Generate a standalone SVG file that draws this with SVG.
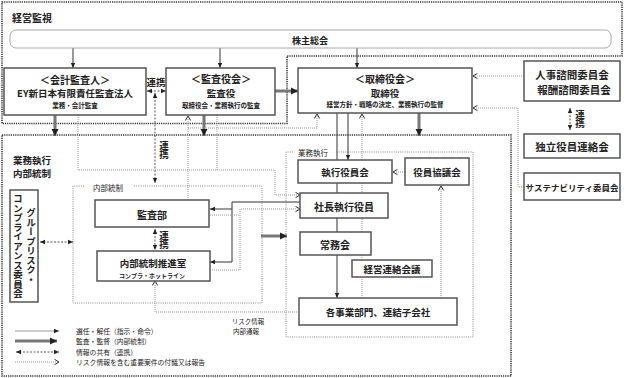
<svg xmlns="http://www.w3.org/2000/svg" width="624" height="378" viewBox="0 0 624 378">
<style>
text{font-family:"Noto Sans CJK JP","Noto Sans",sans-serif;fill:#222;dominant-baseline:central;text-anchor:middle}
.b{font-weight:bold}
.box{fill:#fff;stroke:#555;stroke-width:1.5}
.frameO{fill:none;stroke:#333;stroke-width:1.6;stroke-dasharray:1.2 1}
.frameI{fill:none;stroke:#888;stroke-width:1;stroke-dasharray:1 1.2}
.sol{fill:none;stroke:#333;stroke-width:1}
.thick{fill:none;stroke:#777;stroke-width:3}
.dash{fill:none;stroke:#444;stroke-width:0.9;stroke-dasharray:2 1.5}
.dot{fill:none;stroke:#999;stroke-width:1;stroke-dasharray:1 1}
.vt{writing-mode:vertical-rl}
</style>
<defs>
<marker id="aS" markerUnits="userSpaceOnUse" markerWidth="6" markerHeight="6" refX="5" refY="3" orient="auto"><path d="M0,0.8 L5,3 L0,5.2 Z" fill="#222"/></marker>
<marker id="aSs" markerUnits="userSpaceOnUse" markerWidth="6" markerHeight="6" refX="1" refY="3" orient="auto"><path d="M6,0.8 L1,3 L6,5.2 Z" fill="#222"/></marker>
<marker id="aT" markerUnits="userSpaceOnUse" markerWidth="8" markerHeight="8" refX="7" refY="4" orient="auto"><path d="M0,0.5 L7,4 L0,7.5 Z" fill="#222"/></marker>
<marker id="aO" markerUnits="userSpaceOnUse" markerWidth="7" markerHeight="7" refX="5.5" refY="3.5" orient="auto"><path d="M1,0.8 L5.5,3.5 L1,6.2" fill="none" stroke="#333" stroke-width="1"/></marker>
</defs>

<g id="frames">
<path class="frameO" d="M2,2 H622 V56 H287 V123.5 H2 Z"/>
<rect class="frameO" x="2" y="135" width="509" height="241"/>
<path class="frameI" d="M84,186 H73 V303 H262 V186 H133"/>
<path class="frameI" d="M293,152 H286 V337 H473 V152 H335"/>
<text x="32" y="17" class="b" font-size="10">経営監視</text>
<text x="32" y="160" class="b" font-size="9.5">業務執行</text>
<text x="32" y="173" class="b" font-size="9.5">内部統制</text>
<text x="108" y="187" font-size="7.5">内部統制</text>
<text x="313" y="152" font-size="7.5">業務執行</text>
</g>

<g id="connectors">
<line class="sol" x1="73" y1="48" x2="73" y2="68" marker-end="url(#aS)"/>
<line class="sol" x1="220" y1="48" x2="220" y2="68" marker-end="url(#aS)"/>
<line class="sol" x1="357" y1="48" x2="357" y2="68" marker-end="url(#aS)"/>
<line class="dash" x1="147" y1="91" x2="166" y2="91" marker-start="url(#aSs)" marker-end="url(#aS)"/>
<line class="dash" x1="155" y1="93" x2="155" y2="183" marker-start="url(#aSs)" marker-end="url(#aS)"/>
<line class="thick" x1="275" y1="91" x2="298" y2="91" marker-end="url(#aT)"/>
<line class="thick" x1="55" y1="115" x2="55" y2="136" marker-end="url(#aT)"/>
<line class="thick" x1="204" y1="115" x2="204" y2="136" marker-end="url(#aT)"/>
<line class="thick" x1="419" y1="113" x2="419" y2="136" marker-end="url(#aT)"/>
<line class="thick" x1="261" y1="236" x2="287" y2="236" marker-end="url(#aT)"/>
<path class="dot" d="M188,200 V116" marker-end="url(#aO)"/>
<path class="dot" d="M188,128 H317 V114" marker-end="url(#aO)"/>
<path class="dot" d="M78,115 V170 H275 V195 H300" marker-end="url(#aO)"/>
<path class="dot" d="M217,115 V170"/>
<path class="sol" d="M300,202 H232 V262 H210" marker-end="url(#aS)"/>
<path class="sol" d="M232,209 H210" marker-end="url(#aS)"/>
<path class="dot" d="M210,215 H240"/>
<path class="dot" d="M210,270 H240 V209 H300" marker-end="url(#aO)"/>
<line class="dash" x1="40" y1="242" x2="73" y2="242" marker-start="url(#aSs)" marker-end="url(#aS)"/>
<line class="dash" x1="155" y1="229" x2="155" y2="250" marker-start="url(#aSs)" marker-end="url(#aS)"/>
<line class="dot" x1="362" y1="298" x2="362" y2="114" marker-end="url(#aO)"/>
<line class="sol" x1="337" y1="113" x2="337" y2="298" marker-end="url(#aS)"/>
<line class="sol" x1="348" y1="113" x2="348" y2="160" marker-end="url(#aS)"/>
<line class="dot" x1="405" y1="172" x2="393" y2="172" marker-end="url(#aO)"/>
<line class="dot" x1="441" y1="298" x2="441" y2="186" marker-end="url(#aO)"/>
<path class="dot" d="M299,312 H155 V281" marker-end="url(#aO)"/>
<line class="dot" x1="524" y1="76" x2="473" y2="76" marker-end="url(#aO)"/>
<path class="dot" d="M524,187 H518 V108 H473" marker-end="url(#aO)"/>
<line class="dash" x1="570" y1="108" x2="570" y2="130" marker-start="url(#aSs)" marker-end="url(#aS)"/>
<text x="156" y="82" class="b" font-size="9.5">連携</text>
<text x="164" y="150" class="b vt" font-size="9.5">連携</text>
<text x="164" y="240" class="b vt" font-size="9.5">連携</text>
<text x="580" y="119" class="b vt" font-size="9.5">連携</text>
<text x="248" y="321" font-size="6.5">リスク情報</text>
<text x="246" y="331" font-size="6.5">内部通報</text>
</g>

<g id="n-kabunushi">
<rect x="10" y="30" width="601" height="18" rx="6" fill="#fff" stroke="#aaa" stroke-width="1"/>
<text x="310" y="40" class="b" font-size="9">株主総会</text>
</g>
<g id="n-kaikei">
<rect class="box" x="4" y="68" width="142" height="47"/>
<text x="75" y="79.5" class="b" font-size="10">＜会計監査人＞</text>
<text x="75" y="93" class="b" font-size="9.5">EY新日本有限責任監査法人</text>
<text x="75" y="105" class="b" font-size="6.5">業務・会計監査</text>
</g>
<g id="n-kansayaku">
<rect class="box" x="166" y="68" width="109" height="47"/>
<text x="221" y="78.5" class="b" font-size="10">＜監査役会＞</text>
<text x="221" y="93" class="b" font-size="9.5">監査役</text>
<text x="221" y="105" class="b" font-size="6.5">取締役会・業務執行の監査</text>
</g>
<g id="n-torishimari">
<rect class="box" x="298" y="68" width="174" height="45"/>
<text x="385" y="78.5" class="b" font-size="10">＜取締役会＞</text>
<text x="385" y="92.5" class="b" font-size="9.5">取締役</text>
<text x="385" y="104" class="b" font-size="6.5">経営方針・戦略の決定、業務執行の監督</text>
</g>
<g id="n-jinji">
<rect class="box" x="524" y="61" width="96" height="40"/>
<text x="572" y="74" class="b" font-size="10.5">人事諮問委員会</text>
<text x="574" y="89" class="b" font-size="10.5">報酬諮問委員会</text>
</g>
<g id="n-dokuritsu">
<rect class="box" x="524" y="134" width="96" height="24"/>
<text x="572" y="146" class="b" font-size="10.5">独立役員連絡会</text>
</g>
<g id="n-sustain">
<rect class="box" x="524" y="173" width="96" height="27"/>
<text x="572" y="187" class="b" font-size="8.5">サステナビリティ委員会</text>
</g>
<g id="n-grouprisk">
<rect class="box" x="10" y="190" width="28" height="112"/>
<text x="31" y="246" class="b vt" font-size="9.5">グループリスク・</text>
<text x="18" y="246" class="b vt" font-size="9.5">コンプライアンス委員会</text>
</g>
<g id="n-kansabu">
<rect class="box" x="95" y="200" width="114" height="27"/>
<text x="152" y="214" class="b" font-size="10">監査部</text>
</g>
<g id="n-naibu">
<rect class="box" x="97" y="251" width="113" height="30"/>
<text x="153" y="262.5" class="b" font-size="9.5">内部統制推進室</text>
<text x="152" y="275" class="b" font-size="6">コンプラ・ホットライン</text>
</g>
<g id="n-shikko">
<rect class="box" x="298" y="160" width="94" height="23"/>
<text x="345" y="172" class="b" font-size="9.5">執行役員会</text>
</g>
<g id="n-yakuin">
<rect class="box" x="405" y="158" width="64" height="27"/>
<text x="437" y="172" class="b" font-size="9.5">役員協議会</text>
</g>
<g id="n-shacho">
<rect class="box" x="300" y="193" width="88" height="25"/>
<text x="344" y="206" class="b" font-size="10">社長執行役員</text>
</g>
<g id="n-jomu">
<rect class="box" x="300" y="232" width="71" height="23"/>
<text x="335" y="244" class="b" font-size="10">常務会</text>
</g>
<g id="n-keiei">
<rect class="box" x="352" y="260" width="80" height="17"/>
<text x="392" y="269" class="b" font-size="9.5">経営連絡会議</text>
</g>
<g id="n-jigyo">
<rect class="box" x="299" y="298" width="158" height="27"/>
<text x="378" y="312" class="b" font-size="9.5">各事業部門、連結子会社</text>
</g>

<g id="legend">
<line x1="15" y1="331" x2="59" y2="331" stroke="#999" stroke-width="1" marker-end="url(#aS)"/>
<line x1="15" y1="341" x2="57" y2="341" stroke="#777" stroke-width="3" marker-end="url(#aT)"/>
<line class="dash" x1="16" y1="352" x2="59" y2="352" marker-start="url(#aSs)" marker-end="url(#aS)"/>
<line class="dot" x1="15" y1="362" x2="59" y2="362" marker-end="url(#aO)"/>
<text x="76" y="331" font-size="6.8" style="text-anchor:start">選任・解任（指示・命令）</text>
<text x="76" y="341" font-size="6.8" style="text-anchor:start">監査・監督（内部統制）</text>
<text x="76" y="352" font-size="6.8" style="text-anchor:start">情報の共有（連携）</text>
<text x="76" y="362" font-size="6.8" style="text-anchor:start">リスク情報を含む重要案件の付議又は報告</text>
</g>
</svg>
